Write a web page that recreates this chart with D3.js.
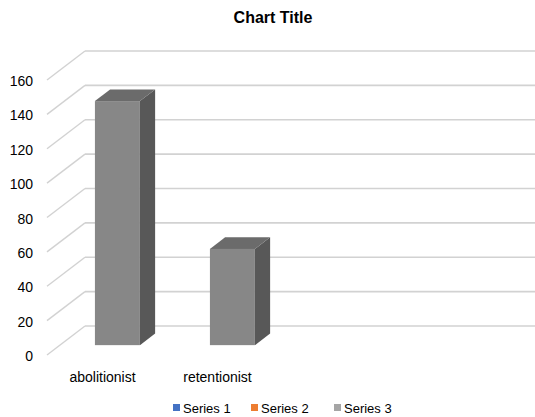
<!DOCTYPE html>
<html>
<head>
<meta charset="utf-8">
<script src="https://cdn.jsdelivr.net/npm/d3@7"></script>
<style>
  html, body { margin: 0; padding: 0; background: #ffffff; }
  svg { display: block; font-family: "Liberation Sans", Arial, sans-serif; }
</style>
</head>
<body>
<svg id="chart" width="535" height="417"></svg>
<script>
// ---- data ----
const categories = ["abolitionist", "retentionist"];
const seriesNames = ["Series 1", "Series 2", "Series 3"];
const series3Values = [142, 56];
const yTicks = [0, 20, 40, 60, 80, 100, 120, 140, 160];
const titleText = "Chart Title";

// ---- layout ----
const W = 535, H = 417;
const DX = 38, DY = 29;            // depth vector of the 3D floor
const bandW = 115;
const frontLeft = 47;
const d0 = 0.34, d1 = 0.74;        // bar depth position
const legendColors = ["#4472C4", "#ED7D31", "#A5A5A5"];

const svg = d3.select("#chart");

const y = d3.scaleLinear().domain([0, 160]).range([355, 80]);
const x = d3.scaleBand().domain(categories)
  .range([frontLeft, frontLeft + bandW * categories.length])
  .paddingInner(0).paddingOuter(0);

// title
svg.append("text")
  .attr("x", 273).attr("y", 17)
  .attr("text-anchor", "middle").attr("dominant-baseline", "central")
  .attr("font-size", 16).attr("font-weight", "bold").attr("fill", "#000")
  .text(titleText);

// gridlines: back wall + side diagonals
const grid = svg.append("g");
yTicks.forEach(v => {
  grid.append("line")
    .attr("x1", frontLeft + DX).attr("x2", W)
    .attr("y1", y(v) - DY).attr("y2", y(v) - DY)
    .attr("stroke", "#d2d2d2").attr("stroke-width", 1.6);
  grid.append("line")
    .attr("x1", frontLeft).attr("y1", y(v))
    .attr("x2", frontLeft + DX).attr("y2", y(v) - DY)
    .attr("stroke", "#d2d2d2").attr("stroke-width", 1.4);
});

// y tick labels
svg.append("g").selectAll("text").data(yTicks).join("text")
  .attr("x", 33).attr("y", d => y(d) + 1)
  .attr("text-anchor", "end").attr("dominant-baseline", "central")
  .attr("font-size", 14).attr("fill", "#000")
  .text(d => d);

// bars (Series 3)
const barW = 45;
const bars = svg.append("g");
categories.forEach((c, i) => {
  const v = series3Values[i];
  const xf0 = x(c) + (x.bandwidth() - barW) / 2 + d0 * DX;
  const xf1 = xf0 + barW;
  const yb = y(0) - d0 * DY;
  const yt = y(v) - d0 * DY;
  const ox = (d1 - d0) * DX, oy = (d1 - d0) * DY;
  // side face
  bars.append("polygon")
    .attr("points", [[xf1, yb], [xf1 + ox, yb - oy], [xf1 + ox, yt - oy], [xf1, yt]].map(p => p.join(",")).join(" "))
    .attr("fill", "#585858");
  // top face
  bars.append("polygon")
    .attr("points", [[xf0, yt], [xf0 + ox, yt - oy], [xf1 + ox, yt - oy], [xf1, yt]].map(p => p.join(",")).join(" "))
    .attr("fill", "#6b6b6b");
  // front face
  bars.append("rect")
    .attr("x", xf0).attr("y", yt)
    .attr("width", barW).attr("height", yb - yt)
    .attr("fill", "#878787");
});

// category labels
svg.append("g").selectAll("text").data(categories).join("text")
  .attr("x", d => x(d) + x.bandwidth() / 2 - 2)
  .attr("y", 377)
  .attr("text-anchor", "middle").attr("dominant-baseline", "central")
  .attr("font-size", 14).attr("fill", "#000")
  .text(d => d);

// legend
const legendX = [173, 251, 334];
const lg = svg.append("g");
seriesNames.forEach((s, i) => {
  lg.append("rect").attr("x", legendX[i]).attr("y", 404).attr("width", 7).attr("height", 7)
    .attr("fill", legendColors[i]);
  lg.append("text").attr("x", legendX[i] + 10).attr("y", 408)
    .attr("dominant-baseline", "central").attr("font-size", 13).attr("fill", "#000")
    .text(s);
});
</script>
</body>
</html>
